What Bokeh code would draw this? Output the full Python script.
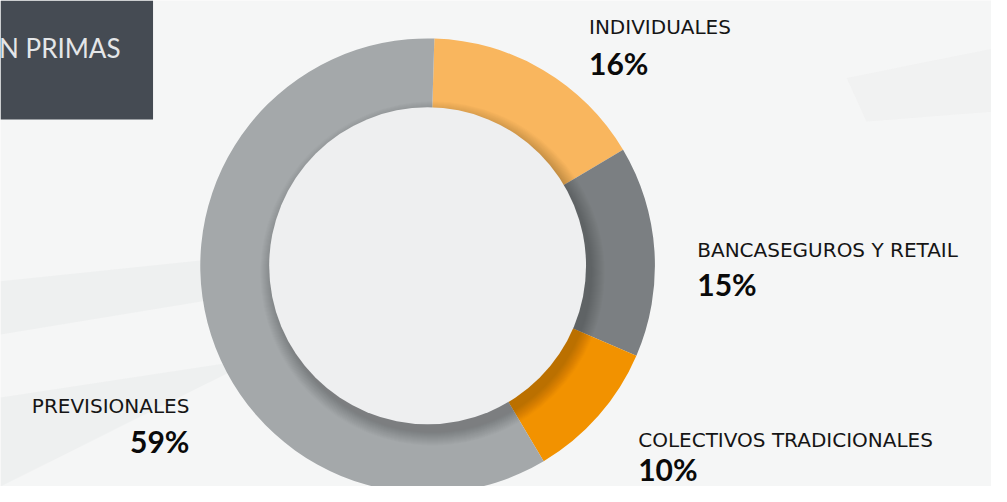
import math
from bokeh.plotting import figure
from bokeh.models import Range1d, ColumnDataSource
from bokeh.embed import file_html
from bokeh.resources import INLINE
from bokeh.core.properties import value

# ---- data ----
categories = ["INDIVIDUALES", "BANCASEGUROS Y RETAIL", "COLECTIVOS TRADICIONALES", "PREVISIONALES"]
shares = [16, 15, 10, 59]
pct_labels = ["16%", "15%", "10%", "59%"]
title_text = "N PRIMAS"

# ---- style / layout (coordinates in a 1007 x 502 frame, y from top) ----
colors = ["#F9B65E", "#7B7F82", "#F29200", "#A4A8AA"]
W, H = 991, 486
REF_W, REF_H = 1007, 502
def sy(y):  # top-down y -> data y
    return REF_H - y

cx, cy = 434, sy(274)
r_out, r_in = 231, 161
start_deg = 88.3

p = figure(width=W, height=H, x_range=Range1d(0, REF_W), y_range=Range1d(0, REF_H),
           output_backend="svg", toolbar_location=None, min_border=0)
p.axis.visible = False
p.grid.visible = False
p.outline_line_color = None
p.background_fill_color = "#F5F6F6"
p.border_fill_color = "#F5F6F6"

# faint photographic background hints
p.patch([0, 380, 420, 0], [sy(290), sy(250), sy(275), sy(345)], fill_color="#E3E4E5", fill_alpha=0.35, line_color=None)
p.patch([0, 260, 0], [sy(410), sy(370), sy(502)], fill_color="#E3E4E5", fill_alpha=0.35, line_color=None)
p.patch([860, 1007, 1007, 880], [sy(80), sy(50), sy(115), sy(125)], fill_color="#E7E8E9", fill_alpha=0.3, line_color=None)

# dark title box
p.quad(left=[0], right=[155], top=[sy(0)], bottom=[sy(123)], fill_color="#454B53", line_color=None)
p.text(x=[122], y=[sy(49)], text=[title_text], text_font=value("Lato"), text_font_size="26px",
       text_color="#E4E6E8", text_align="right", text_baseline="alphabetic")

# donut wedges from data
starts, ends = [], []
acc = 0
for s in shares:
    starts.append(math.radians(start_deg - acc * 3.6))
    acc += s
    ends.append(math.radians(start_deg - acc * 3.6))
src = ColumnDataSource(dict(cat=categories, share=shares, start=starts, end=ends, color=colors))
p.annular_wedge(x=cx, y=cy, inner_radius=r_in - 2, outer_radius=r_out, start_angle="start", end_angle="end",
                direction="clock", fill_color="color", line_color=None, source=src)

# inner disk drop shadow (towards bottom-right)
for k in range(14):
    p.circle(x=[cx + 5], y=[cy - 8], radius=r_in + 14 - k, fill_color="black", fill_alpha=0.014, line_color=None)
p.circle(x=[cx], y=[cy], radius=r_in, fill_color="#EEEFF0", line_color=None)

# labels
label_pos = [(598, 27, 65, "left"), (708, 258, 293, "left"), (648, 454, 484, "left"), (192, 419, 455, "right")]
for cat, pct, (lx, ly1, ly2, al) in zip(categories, pct_labels, label_pos):
    p.text(x=[lx], y=[sy(ly1)], text=[cat], text_font=value("DejaVu Sans"), text_font_size="20px",
           text_color="#151515", text_align=al, text_baseline="alphabetic")
    p.text(x=[lx], y=[sy(ly2)], text=[pct], text_font=value("Lato"), text_font_size="30px",
           text_font_style="bold", text_color="#0A0A0A", text_align=al, text_baseline="alphabetic")

open("out.html", "w").write(file_html(p, INLINE))
